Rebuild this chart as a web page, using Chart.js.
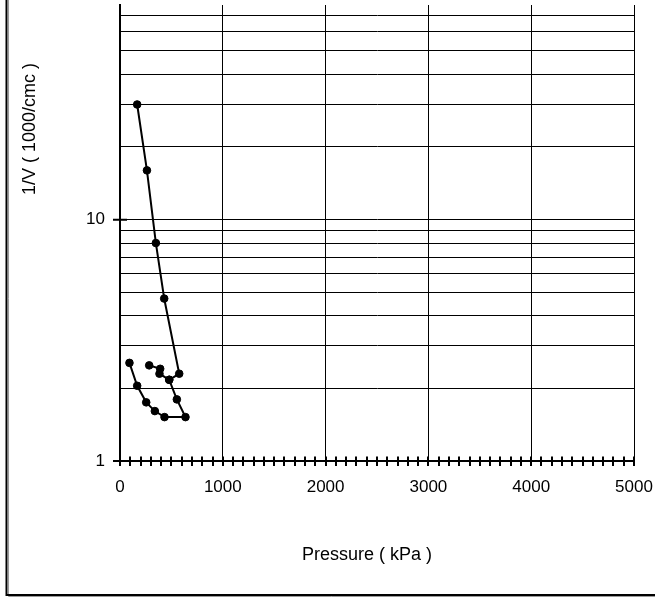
<!DOCTYPE html>
<html>
<head>
<meta charset="utf-8">
<script src="https://cdn.jsdelivr.net/npm/chart.js@4"></script>
<style>
  body { margin: 0; background: #fff; }
  #caixa { width: 655px; height: 597px; }
</style>
</head>
<body>
<div id="caixa"><canvas id="grafico" width="655" height="597"></canvas></div>
<script>
// Curva principal (descendo e voltando pelo laço de baixo)
const pressaoPrincipal = [167, 262, 349, 430, 576, 479, 553, 637, 433, 339, 255, 167, 92];
const inversoVolPrincipal = [30.0, 16.0, 8.0, 4.71, 2.30, 2.17, 1.80, 1.52, 1.52, 1.61, 1.75, 2.05, 2.55];

// Trecho curto que volta para o ponto 479 kPa
const pressaoTrecho = [284, 391, 384, 479];
const inversoVolTrecho = [2.49, 2.41, 2.30, 2.17];

// Eixos
const ticksX = [0, 1000, 2000, 3000, 4000, 5000];
const gradeY = [1, 2, 3, 4, 5, 6, 7, 8, 9, 10, 20, 30, 40, 50, 60, 70];
const rotulosY = [1, 10];

const fonte = "'Liberation Sans', Arial, sans-serif";

const pontos = (xs, ys) => xs.map((x, i) => ({ x, y: ys[i] }));

const estiloSerie = {
  showLine: true,
  borderColor: "#000",
  backgroundColor: "#000",
  borderWidth: 2,
  pointRadius: 3.8,
  pointBorderWidth: 1,
  pointBackgroundColor: "#000",
  pointBorderColor: "#000",
  tension: 0
};

// Marcas que cruzam os eixos, títulos e moldura
const extras = {
  id: "extras",
  beforeDraw(chart) {
    const c = chart.ctx;
    c.save();
    c.fillStyle = "#fff";
    c.fillRect(0, 0, chart.width, chart.height);
    // moldura (sombra cinza + linha preta)
    c.strokeStyle = "#9a9a9a";
    c.lineWidth = 1;
    c.beginPath();
    c.moveTo(8.5, 0); c.lineTo(8.5, 596.5); c.lineTo(655, 596.5);
    c.stroke();
    c.strokeStyle = "#000";
    c.lineWidth = 2;
    c.beginPath();
    c.moveTo(6.5, 0); c.lineTo(6.5, 595); c.lineTo(655, 595);
    c.stroke();
    c.restore();
  },
  afterDraw(chart) {
    const c = chart.ctx;
    const sx = chart.scales.x, sy = chart.scales.y;
    const y0 = sy.getPixelForValue(1);
    const x0 = sx.getPixelForValue(0);
    c.save();
    c.strokeStyle = "#000";
    c.lineWidth = 2;
    c.beginPath();
    for (let p = 0; p <= 5000; p += 100) {
      const px = Math.round(sx.getPixelForValue(p));
      c.moveTo(px, y0 - 4.5);
      c.lineTo(px, y0 + 5);
    }
    c.stroke();
    c.lineWidth = 2;
    c.beginPath();
    rotulosY.forEach(v => {
      const py = sy.getPixelForValue(v);
      c.moveTo(x0 - 7, py);
      c.lineTo(x0 + 7, py);
    });
    c.stroke();

    c.fillStyle = "#000";
    c.font = "18px " + fonte;
    c.textAlign = "center";
    c.textBaseline = "middle";
    c.fillText("Pressure ( kPa )", 367, 555);
    c.translate(30, 129);
    c.rotate(-Math.PI / 2);
    c.fillText("1/V ( 1000/cmc )", 0, 0);
    c.restore();
  }
};

new Chart(document.getElementById("grafico").getContext("2d"), {
  type: "scatter",
  data: {
    datasets: [
      { data: pontos(pressaoPrincipal, inversoVolPrincipal), ...estiloSerie },
      { data: pontos(pressaoTrecho, inversoVolTrecho), ...estiloSerie }
    ]
  },
  options: {
    responsive: false,
    devicePixelRatio: 1,
    animation: false,
    layout: { padding: { top: 0, left: 0, right: 21, bottom: 0 } },
    plugins: {
      legend: { display: false },
      tooltip: { enabled: false },
      title: { display: false }
    },
    scales: {
      x: {
        type: "linear",
        min: 0,
        max: 5000,
        afterBuildTicks: s => { s.ticks = ticksX.map(v => ({ value: v })); },
        afterFit: s => { s.height = 136; },
        grid: { color: "#000", lineWidth: 1, drawTicks: true, tickLength: 16, tickColor: "transparent" },
        border: { display: true, color: "#000", width: 2 },
        ticks: {
          padding: 0,
          color: "#000",
          font: { family: fonte, size: 17 },
          maxRotation: 0,
          autoSkip: false,
          callback: v => String(v)
        }
      },
      y: {
        type: "logarithmic",
        min: 1,
        max: 77.5,
        afterBuildTicks: s => { s.ticks = gradeY.map(v => ({ value: v })); },
        afterFit: s => { s.width = 120; },
        grid: { color: "#000", lineWidth: 1, drawTicks: true, tickLength: 15, tickColor: "transparent" },
        border: { display: true, color: "#000", width: 2 },
        ticks: {
          padding: 0,
          color: "#000",
          font: { family: fonte, size: 17 },
          autoSkip: false,
          callback: v => rotulosY.includes(v) ? String(v) : []
        }
      }
    }
  },
  plugins: [extras]
});
</script>
</body>
</html>
